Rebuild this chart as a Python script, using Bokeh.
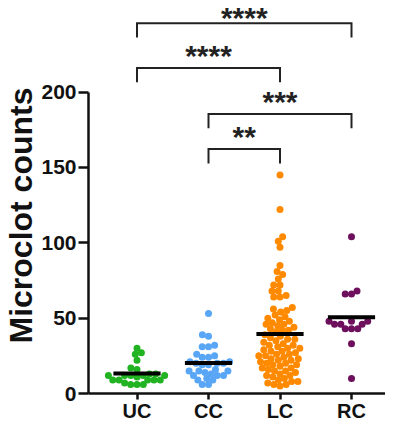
import numpy as np
from bokeh.plotting import figure
from bokeh.models import Range1d, FixedTicker, Title
from bokeh.core.properties import value
from bokeh.embed import file_html
from bokeh.resources import INLINE

# ---------------- data ----------------
groups = ["UC", "CC", "LC", "RC"]

uc_counts = [30, 27, 26, 22, 17, 16,
             13, 13, 12, 12, 12, 12, 12, 11,
             9, 9, 9, 9, 9,
             7, 6, 6, 6]

cc_counts = [53, 39, 38, 32, 31, 31, 26, 25, 24, 24,
             21, 21, 20, 20, 20, 19, 19,
             16, 15, 15, 15, 14,
             13, 12, 12, 12,
             10, 9, 9,
             6, 6]

lc_counts = [145, 122, 104, 101, 97, 85, 81, 79, 76, 72, 72, 68, 68, 65, 64, 64,
             57, 56, 55, 54, 52, 51, 50, 49, 48, 47, 46, 46, 45, 44, 43, 42, 42, 41,
             39, 38, 37, 36, 36, 35, 34, 33, 32, 32,
             31, 30, 30, 29, 28, 28, 27, 26, 26, 25,
             25, 24, 23, 23, 22, 22, 21, 20, 20, 19,
             19, 18, 17, 17, 16, 15, 15, 14, 13, 12,
             12, 11, 10, 9, 8, 8, 7, 6, 6, 5]

rc_counts = [104, 68, 66, 66, 48, 48, 48, 46, 46, 46, 43, 43, 43, 33, 10]

y_ticks = [0, 50, 100, 150, 200]

comparisons = [("UC", "RC"), ("UC", "LC"), ("CC", "RC"), ("CC", "LC")]
bracket_levels = [245.7, 216.0, 185.5, 162.2]
significance = ["****", "****", "***", "**"]

colors = ["#21b321", "#58a6f5", "#ff8a00", "#6d0f5c"]

# ---------------- layout ----------------
W, H = 385, 424
LEFT = 88
FRAME_H = 395          # expected frame height (x axis panel ~29px)
PX_X = 71.5
PX_Y = (FRAME_H - 92) / 200.0
X_LO = -(136.5 - LEFT) / PX_X
X_HI = (W - 136.5) / PX_X
Y_LO, Y_HI = 0.0, FRAME_H / PX_Y

FONT = "Liberation Sans"
DOT = 7
SEP = 6.3
STAR_FS = 30


def swarm_offsets(vals, sep):
    ys = np.asarray(vals, dtype=float) * PX_Y
    xs = np.zeros(len(ys))
    placed = []
    for i in np.argsort(ys, kind="stable"):
        y = ys[i]
        cands = [0.0]
        for j in placed:
            dy = y - ys[j]
            if abs(dy) < sep:
                dx = np.sqrt(sep * sep - dy * dy)
                cands += [xs[j] + dx, xs[j] - dx]
        cands.sort(key=lambda c: (abs(c), c))
        for c in cands:
            ok = True
            for j in placed:
                if (c - xs[j]) ** 2 + (y - ys[j]) ** 2 < sep * sep - 1e-6:
                    ok = False
                    break
            if ok:
                xs[i] = c
                break
        placed.append(i)
    return xs / PX_X


p = figure(width=W, height=H,
           x_range=Range1d(X_LO, X_HI), y_range=Range1d(Y_LO, Y_HI),
           output_backend="svg", toolbar_location=None,
           min_border_left=LEFT, min_border_bottom=0,
           min_border_top=0, min_border_right=0)
p.outline_line_color = None
p.xgrid.visible = False
p.ygrid.visible = False
p.background_fill_color = "white"
p.border_fill_color = "white"

# y axis
yax = p.yaxis[0]
yax.ticker = FixedTicker(ticks=y_ticks)
yax.bounds = (y_ticks[0], y_ticks[-1])
yax.minor_tick_line_color = None
yax.axis_line_width = 2.5
yax.major_tick_line_width = 2.5
yax.axis_line_color = "#111111"
yax.major_tick_line_color = "#111111"
yax.major_tick_out = 10
yax.major_tick_in = 0
yax.major_label_standoff = 2
yax.major_label_text_font = FONT
yax.major_label_text_font_style = "bold"
yax.major_label_text_font_size = "21px"
yax.major_label_text_color = "#111111"

ylabel = Title(text="Microclot counts", text_font=FONT, text_font_style="bold",
               text_font_size="32px", text_color="#111111",
               align="left", offset=50, standoff=0)
p.add_layout(ylabel, "left")

# x axis
xax = p.xaxis[0]
xax.ticker = FixedTicker(ticks=list(range(len(groups))))
xax.major_label_overrides = {i: g for i, g in enumerate(groups)}
xax.minor_tick_line_color = None
xax.axis_line_width = 2.5
xax.major_tick_line_width = 2.5
xax.axis_line_color = "#111111"
xax.major_tick_line_color = "#111111"
xax.major_tick_out = 6
xax.major_tick_in = 0
xax.major_label_standoff = 0
xax.major_label_text_font = FONT
xax.major_label_text_font_style = "bold"
xax.major_label_text_font_size = "20px"
xax.major_label_text_color = "#111111"

all_counts = [uc_counts, cc_counts, lc_counts, rc_counts]

# points
for i, (vals, col) in enumerate(zip(all_counts, colors)):
    off = swarm_offsets(vals, SEP)
    p.scatter(x=i + off, y=vals, size=DOT, fill_color=col, line_color=None)

# mean bars (on top of the points)
means = [float(np.mean(v)) for v in all_counts]
p.segment(x0=[i - 0.33 for i in range(len(groups))],
          x1=[i + 0.33 for i in range(len(groups))],
          y0=means, y1=means, line_width=4, line_color="black", line_cap="butt")

# significance brackets
drop = 14.5 / PX_Y
bx, by, sx_, sy_ = [], [], [], []
for (a, b), lev in zip(comparisons, bracket_levels):
    xa, xb = groups.index(a), groups.index(b)
    bx.append([xa, xa, xb, xb])
    by.append([lev - drop, lev, lev, lev - drop])
    sx_.append((xa + xb) / 2)
    line_px = (Y_HI - lev) * PX_Y
    anchor_px = max(line_px - 29.0, 0.5)
    sy_.append(Y_HI - anchor_px / PX_Y)
p.multi_line(xs=bx, ys=by, line_color="#222222", line_width=2, line_join="miter")
p.text(x=sx_, y=sy_, text=significance, text_align="center", text_baseline="top",
       text_font=value(FONT), text_font_style="bold", text_font_size=f"{STAR_FS}px",
       text_color="#222222")

open("out.html", "w").write(file_html(p, INLINE))
